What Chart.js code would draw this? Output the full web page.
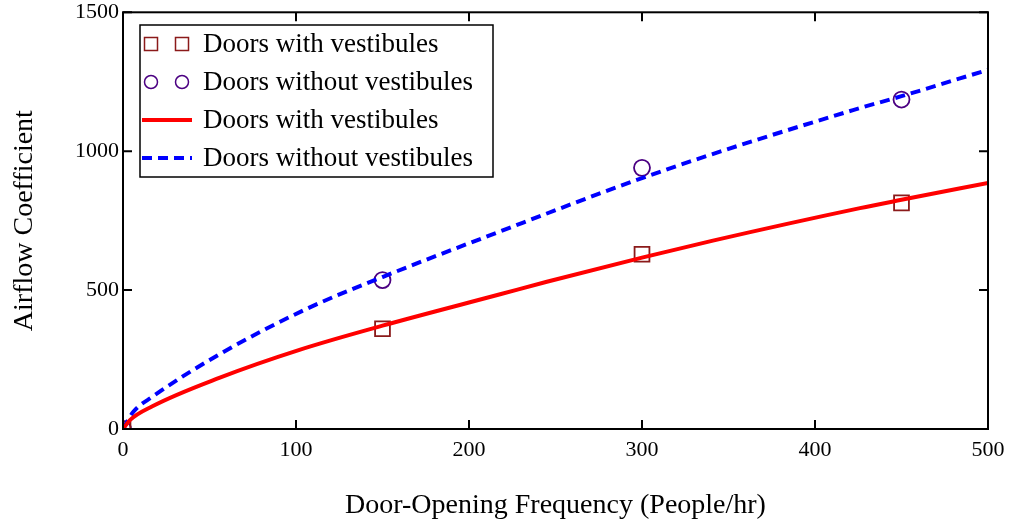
<!DOCTYPE html>
<html>
<head>
<meta charset="utf-8">
<script src="https://cdn.jsdelivr.net/npm/chart.js@4"></script>
<style>
  html, body { margin: 0; padding: 0; background: #fff; }
  #wrap { width: 1013px; height: 527px; }
</style>
</head>
<body>
<div id="wrap"><canvas id="chart"></canvas></div>
<script>
const FONT = "'Liberation Serif', 'Times New Roman', serif";

// measured points
const freqPoints = [0, 150, 300, 450];
const withVest = [0, 361, 629, 814];
const withoutVest = [0, 536, 940, 1186];

// fitted curves
const redX = [0, 4, 17, 56, 102, 150, 218, 245, 300, 341, 426, 450, 500];
const redY = [0, 32, 82, 185, 285, 372, 485, 530, 617, 678, 795, 825, 886];
const blueX = [0, 6, 17, 56, 106, 150, 212, 310, 422, 450, 500];
const blueY = [0, 62, 116, 270, 432, 547, 697, 925, 1148, 1198, 1293];

const xTicks = [0, 100, 200, 300, 400, 500];
const yTicks = [0, 500, 1000, 1500];

const toXY = (xs, ys) => xs.map((x, i) => ({x, y: ys[i]}));

const legendItems = [
    {text: 'Doors with vestibules', kind: 'rect', color: '#8b1a1a'},
    {text: 'Doors without vestibules', kind: 'circle', color: '#4b0082'},
    {text: 'Doors with vestibules', kind: 'line', color: '#ff0000'},
    {text: 'Doors without vestibules', kind: 'dash', color: '#0000ff'}
];

const frameAndLegend = {
    id: 'frameAndLegend',
    afterDatasetsDraw(chart) {
        const ctx = chart.ctx;
        const a = chart.chartArea;
        const xs = chart.scales.x, ys = chart.scales.y;
        ctx.save();
        ctx.strokeStyle = '#000';
        ctx.lineWidth = 2;
        ctx.strokeRect(a.left, a.top, a.right - a.left, a.bottom - a.top);
        // inward ticks on all sides
        ctx.beginPath();
        xTicks.forEach(v => {
            const px = xs.getPixelForValue(v);
            ctx.moveTo(px, a.bottom); ctx.lineTo(px, a.bottom - 9);
            ctx.moveTo(px, a.top); ctx.lineTo(px, a.top + 9);
        });
        yTicks.forEach(v => {
            const py = ys.getPixelForValue(v);
            ctx.moveTo(a.left, py); ctx.lineTo(a.left + 9, py);
            ctx.moveTo(a.right, py); ctx.lineTo(a.right - 9, py);
        });
        ctx.stroke();

        // legend box
        const bx = 140, by = 25, bw = 353, bh = 152;
        ctx.fillStyle = '#fff';
        ctx.fillRect(bx, by, bw, bh);
        ctx.lineWidth = 1.5;
        ctx.strokeStyle = '#000';
        ctx.strokeRect(bx, by, bw, bh);
        ctx.font = '27px ' + FONT;
        ctx.textBaseline = 'middle';
        ctx.textAlign = 'left';
        legendItems.forEach((it, i) => {
            const cy = by + 19 + i * 38;
            ctx.strokeStyle = it.color;
            ctx.setLineDash([]);
            if (it.kind === 'rect') {
                ctx.lineWidth = 1.5;
                [bx + 11, bx + 42].forEach(x0 => ctx.strokeRect(x0 - 6.5, cy - 6.5, 13, 13));
            } else if (it.kind === 'circle') {
                ctx.lineWidth = 1.5;
                [bx + 11, bx + 42].forEach(x0 => {
                    ctx.beginPath(); ctx.arc(x0, cy, 6.5, 0, Math.PI * 2); ctx.stroke();
                });
            } else {
                ctx.lineWidth = 4;
                if (it.kind === 'dash') ctx.setLineDash([10, 6]);
                ctx.beginPath(); ctx.moveTo(bx + 2, cy); ctx.lineTo(bx + 52, cy); ctx.stroke();
                ctx.setLineDash([]);
            }
            ctx.fillStyle = '#000';
            ctx.fillText(it.text, bx + 63, cy + 1);
        });
        ctx.restore();
    }
};

new Chart(document.getElementById('chart'), {
    type: 'scatter',
    data: {
        datasets: [
            {
                label: 'Doors with vestibules',
                data: toXY(freqPoints, withVest),
                pointStyle: 'rect', pointRadius: 10.5, pointHoverRadius: 10.5,
                borderColor: '#8b1a1a', backgroundColor: 'rgba(0,0,0,0)',
                pointBorderWidth: 1.8, order: 2
            },
            {
                label: 'Doors without vestibules',
                data: toXY(freqPoints, withoutVest),
                pointStyle: 'circle', pointRadius: 8, pointHoverRadius: 8,
                borderColor: '#4b0082', backgroundColor: 'rgba(0,0,0,0)',
                pointBorderWidth: 1.8, order: 2
            },
            {
                label: 'Doors with vestibules',
                data: toXY(redX, redY),
                showLine: true, pointRadius: 0, borderColor: '#ff0000',
                borderWidth: 4, cubicInterpolationMode: 'monotone', order: 1
            },
            {
                label: 'Doors without vestibules',
                data: toXY(blueX, blueY),
                showLine: true, pointRadius: 0, borderColor: '#0000ff',
                borderWidth: 4, borderDash: [10, 6], cubicInterpolationMode: 'monotone', order: 1
            }
        ]
    },
    options: {
        responsive: true,
        maintainAspectRatio: false,
        animation: false,
        layout: {padding: {top: 12, right: 25, left: 0, bottom: 0}},
        plugins: {legend: {display: false}, tooltip: {enabled: false}},
        scales: {
            x: {
                type: 'linear', min: 0, max: 500,
                afterFit: s => { s.height = 98; s.paddingLeft = 0; s.paddingRight = 0; },
                afterBuildTicks: s => { s.ticks = xTicks.map(v => ({value: v})); },
                grid: {display: false, drawTicks: false},
                border: {display: false},
                ticks: {color: '#000', padding: 8, maxRotation: 0, font: {family: FONT, size: 22},
                        callback: v => String(v)},
                title: {display: true, text: 'Door-Opening Frequency (People/hr)', color: '#000',
                        font: {family: FONT, size: 28}, padding: {top: 0, bottom: 5}}
            },
            y: {
                type: 'linear', min: 0, max: 1500,
                afterFit: s => { s.width = 123; s.paddingTop = 0; s.paddingBottom = 0; },
                afterBuildTicks: s => { s.ticks = yTicks.map(v => ({value: v})); },
                grid: {display: false, drawTicks: false},
                border: {display: false},
                ticks: {color: '#000', padding: 4, font: {family: FONT, size: 22},
                        callback: v => String(v)},
                title: {display: true, text: 'Airflow Coefficient', color: '#000',
                        font: {family: FONT, size: 28}, padding: {top: 8, bottom: 0}}
            }
        }
    },
    plugins: [frameAndLegend]
});
</script>
</body>
</html>
